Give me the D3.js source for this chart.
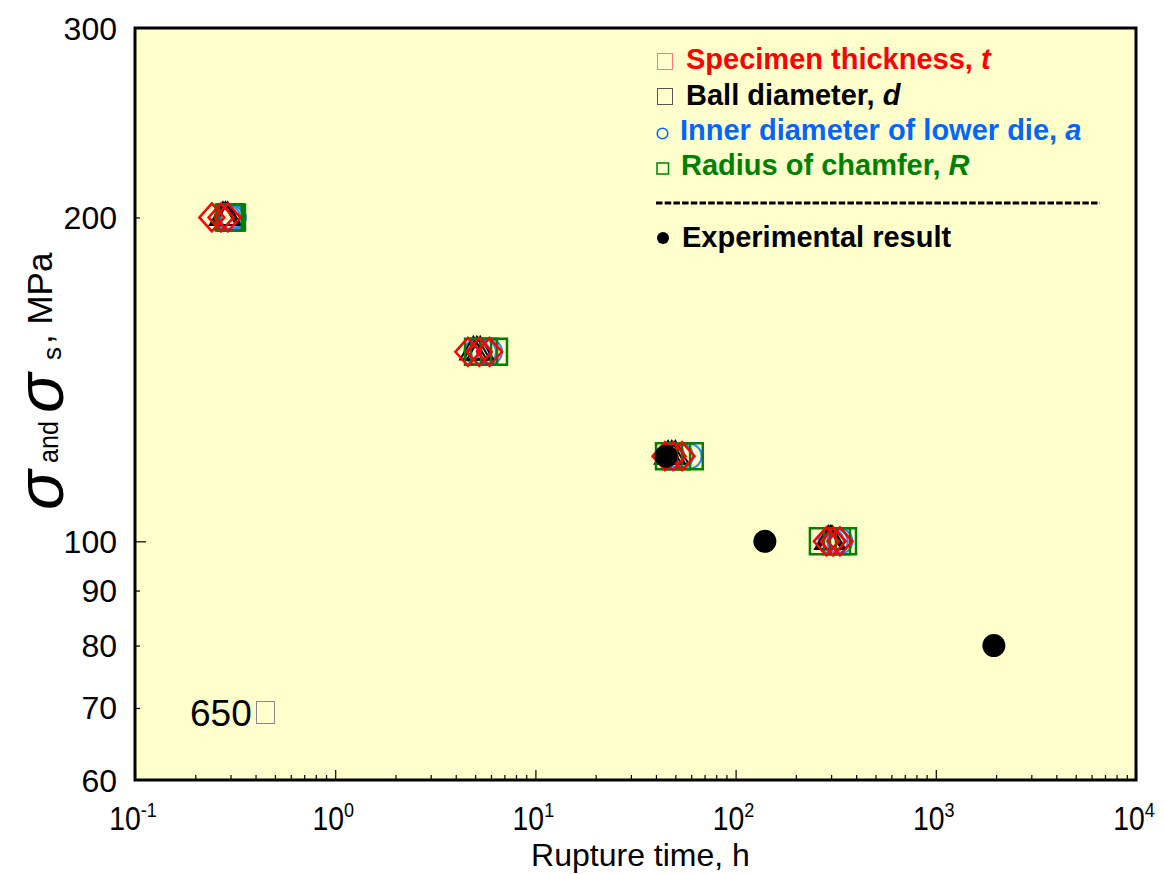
<!DOCTYPE html>
<html><head><meta charset="utf-8">
<script src="https://cdn.jsdelivr.net/npm/d3@7"></script>
<style>body{margin:0;background:#fff}</style>
</head><body>
<svg id="chart" width="1164" height="874"></svg>
<script>
// ---------------- data ----------------
const stressLevels = [200, 150, 120, 100];
const thicknessTimes = [[0.242, 0.269, 0.291], [4.6, 5.24, 5.9], [44.4, 48.7, 54.0], [284, 307, 332]];
const ballTimes      = [[0.275, 0.283, 0.29], [4.9, 5.1, 5.3], [46, 48, 50], [290, 297, 303]];
const innerDieTimes  = [[0.29, 0.30, 0.31], [5.1, 5.5, 5.9], [48, 53, 58.5], [300, 314, 332]];
const chamferTimes   = [[0.294, 0.30, 0.305], [5.17, 5.54, 6.21], [46.5, 51, 59], [273, 321, 344]];
const expTimes  = [45, 140, 1950];
const expStress = [120, 100, 80];
const xTickValues = [0.1, 1, 10, 100, 1000, 10000];
const xTickBase = "10";
const xTickExponents = ["-1", "0", "1", "2", "3", "4"];
const yTickValues = [60, 70, 80, 90, 100, 200, 300];
const yTickLabels = ["60", "70", "80", "90", "100", "200", "300"];
const legendNames = ["Specimen thickness, ", "Ball diameter, ", "Inner diameter of lower die, ", "Radius of chamfer, "];
const legendVars = ["t", "d", "a", "R"];
const expLabel = "Experimental result";
const tempLabel = "650";
const xTitle = "Rupture time, h";

// ---------------- layout ----------------
const svg = d3.select("#chart");
const L = 135, R = 1136, T = 28, B = 780;
const x = d3.scaleLog().domain([0.1, 1e4]).range([L, R]);
const y = d3.scaleLog().domain([60, 300]).range([B, T]);
const FONT = "'Liberation Sans', Arial, sans-serif";

svg.append("rect").attr("x", L).attr("y", T).attr("width", R - L).attr("height", B - T)
  .attr("fill", "#FFFFCC");

// minor x ticks
const minorX = [];
for (let e = -1; e < 4; e++) for (let m = 2; m <= 9; m++) minorX.push(m * Math.pow(10, e));
svg.append("g").attr("transform", `translate(0,${B})`)
  .call(d3.axisBottom(x).tickValues(minorX).tickSize(-5).tickFormat(""))
  .call(g => g.select(".domain").remove())
  .call(g => g.selectAll("line").attr("stroke", "#000").attr("stroke-width", 1.2));
svg.append("g").attr("transform", `translate(0,${B})`)
  .call(d3.axisBottom(x).tickValues(xTickValues).tickSize(-10).tickFormat(""))
  .call(g => g.select(".domain").remove())
  .call(g => g.selectAll("line").attr("stroke", "#000").attr("stroke-width", 1.2));

// y ticks
svg.append("g").attr("transform", `translate(${L},0)`)
  .call(d3.axisLeft(y).tickValues([70, 80, 90, 200]).tickSize(-5).tickFormat(""))
  .call(g => g.select(".domain").remove())
  .call(g => g.selectAll("line").attr("stroke", "#000").attr("stroke-width", 1.2));
svg.append("g").attr("transform", `translate(${L},0)`)
  .call(d3.axisLeft(y).tickValues([100]).tickSize(-11).tickFormat(""))
  .call(g => g.select(".domain").remove())
  .call(g => g.selectAll("line").attr("stroke", "#000").attr("stroke-width", 1.2));

// y tick labels
svg.append("g").selectAll("text").data(yTickValues).join("text")
  .attr("x", L - 18).attr("y", d => y(d)).attr("dy", "0.36em")
  .attr("text-anchor", "end").attr("font-family", FONT).attr("font-size", 32)
  .text((d, i) => yTickLabels[i]);

// x tick labels
const xl = svg.append("g").selectAll("g").data(xTickValues).join("g")
  .attr("transform", d => `translate(${x(d) - 2},${B + 50}) scale(0.86,1)`);
const xt = xl.append("text").attr("text-anchor", "middle").attr("font-family", FONT).attr("font-size", 33);
xt.append("tspan").text(xTickBase);
xt.append("tspan").attr("dy", -13).attr("font-size", 21).text((d, i) => xTickExponents[i]);

// x title
svg.append("text").attr("x", (L + R) / 2 + 5).attr("y", 866).attr("text-anchor", "middle")
  .attr("font-family", FONT).attr("font-size", 32).text(xTitle);

// y title
const yg = svg.append("g").attr("transform", "translate(63,510) rotate(-90)");
yg.append("text").attr("x", 0).attr("y", 0).attr("font-family", FONT).attr("font-style", "italic")
  .attr("font-size", 66).text("\u03C3");
yg.append("text").attr("x", 47).attr("y", -5).attr("font-family", FONT)
  .attr("font-size", 27).attr("textLength", 42).attr("lengthAdjust", "spacingAndGlyphs").text("and");
yg.append("text").attr("x", 97).attr("y", 0).attr("font-family", FONT).attr("font-style", "italic")
  .attr("font-size", 66).text("\u03C3");
yg.append("text").attr("x", 150).attr("y", -2).attr("font-family", FONT)
  .attr("font-size", 26).text("s");
yg.append("text").attr("x", 166).attr("y", -11).attr("font-family", FONT)
  .attr("font-size", 35).text(", MPa");

// frame
svg.append("rect").attr("x", L).attr("y", T).attr("width", R - L).attr("height", B - T)
  .attr("fill", "none").attr("stroke", "#000").attr("stroke-width", 3);

// ---------------- markers ----------------
const diamond = { draw(ctx, size) { const w = 12.5, h = 14; ctx.moveTo(0, -h); ctx.lineTo(w, 0); ctx.lineTo(0, h); ctx.lineTo(-w, 0); ctx.closePath(); } };
function flat(times) {
  const out = [];
  times.forEach((row, i) => row.forEach(t => out.push({ t, s: stressLevels[i] })));
  return out;
}
const plot = svg.append("g");
function drawSeries(times, type, size, color, sw) {
  plot.append("g").selectAll("path").data(flat(times)).join("path")
    .attr("transform", d => `translate(${x(d.t)},${y(d.s)})`)
    .attr("d", d3.symbol().type(type).size(size))
    .attr("fill", "none").attr("stroke", color).attr("stroke-width", sw);
}
drawSeries(innerDieTimes, d3.symbolCircle, Math.PI * 12.5 * 12.5, "#2E86FF", 2);
drawSeries(ballTimes, d3.symbolTriangle, 300, "#000", 2);
drawSeries(chamferTimes, d3.symbolSquare, 26 * 26, "#008000", 2.5);
drawSeries(thicknessTimes, diamond, 1, "#FF0000", 2.5);
plot.append("g").selectAll("circle").data(expTimes).join("circle")
  .attr("cx", d => x(d)).attr("cy", (d, i) => y(expStress[i])).attr("r", 11.5).attr("fill", "#000");

// ---------------- legend ----------------
const legColors = ["#FF0000", "#000000", "#0066FF", "#008000"];
const legBase = [69, 105, 140, 175];
const legTextX = [686, 686, 680, 681];
const lg = svg.append("g");
lg.append("rect").attr("x", 657.5).attr("y", 53.5).attr("width", 15).attr("height", 16)
  .attr("fill", "none").attr("stroke", "#FF7A7A").attr("stroke-width", 1);
lg.append("rect").attr("x", 657.5).attr("y", 88.5).attr("width", 15).attr("height", 16)
  .attr("fill", "none").attr("stroke", "#555").attr("stroke-width", 1);
lg.append("circle").attr("cx", 662.5).attr("cy", 133.5).attr("r", 5.3)
  .attr("fill", "none").attr("stroke", "#0066FF").attr("stroke-width", 1.5);
lg.append("rect").attr("x", 657).attr("y", 163).attr("width", 11.5).attr("height", 11)
  .attr("fill", "none").attr("stroke", "#008000").attr("stroke-width", 1.5);
lg.append("circle").attr("cx", 663).attr("cy", 238).attr("r", 6).attr("fill", "#000");
legendNames.forEach((name, i) => {
  const t = lg.append("text").attr("x", legTextX[i]).attr("y", legBase[i]).attr("font-family", FONT)
    .attr("font-size", 29).attr("font-weight", "bold").attr("fill", legColors[i]);
  t.append("tspan").text(name);
  t.append("tspan").attr("font-style", "italic").text(legendVars[i]);
});
lg.append("line").attr("x1", 656).attr("x2", 1100).attr("y1", 203).attr("y2", 203)
  .attr("stroke", "#000").attr("stroke-width", 3).attr("stroke-dasharray", "6.5,2.2");
lg.append("text").attr("x", 682).attr("y", 247).attr("font-family", FONT).attr("font-size", 29)
  .attr("font-weight", "bold").text(expLabel);

// temperature annotation
svg.append("text").attr("x", 190).attr("y", 726).attr("font-family", FONT).attr("font-size", 37).text(tempLabel);
svg.append("rect").attr("x", 256.5).attr("y", 701.5).attr("width", 18).attr("height", 22)
  .attr("fill", "none").attr("stroke", "#888").attr("stroke-width", 1);
</script>
</body></html>
